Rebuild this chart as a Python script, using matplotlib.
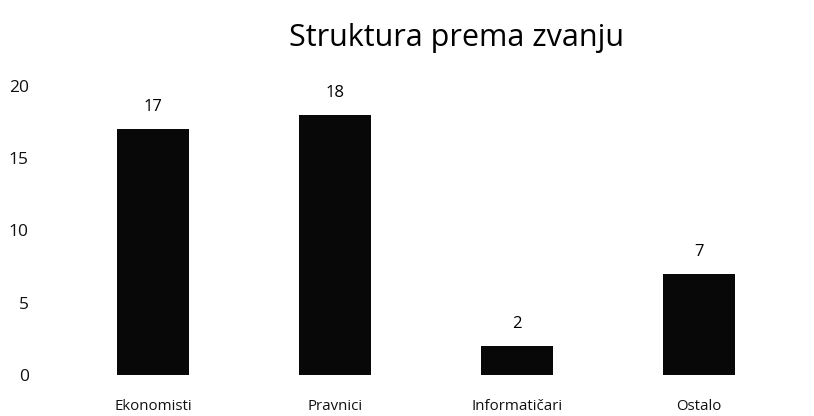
import matplotlib
matplotlib.use("Agg")
import matplotlib.pyplot as plt

categories = ["Ekonomisti", "Pravnici", "Informatičari", "Ostalo"]
values = [17, 18, 2, 7]
yticks = [0, 5, 10, 15, 20]
title = "Struktura prema zvanju"

plt.rcParams['font.family'] = ['Open Sans', 'DejaVu Sans']

fig = plt.figure(figsize=(8.14, 4.16), dpi=100)
ax = fig.add_axes([0.049, 0.0986, 0.951, 0.695])
x = list(range(len(categories)))
bars = ax.bar(x, values, width=0.4, color="#080808")
ax.set_ylim(0, 20)
ax.set_xlim(-0.621, 3.632)
ax.set_yticks(yticks)
ax.set_xticks(x)
ax.set_xticklabels(categories, fontsize=10.8)
ax.tick_params(axis='both', length=0, colors="#111111")
ax.tick_params(axis='y', labelsize=12.5, pad=8)
ax.tick_params(axis='x', pad=17)
for s in ax.spines.values():
    s.set_visible(False)
for b, v in zip(bars, values):
    ax.annotate(str(v), (b.get_x() + b.get_width() / 2, v), xytext=(0, 10),
                textcoords="offset points", ha="center", va="bottom", fontsize=12)
fig.text(0.561, 0.908, title, ha="center", va="center", fontsize=22)
fig.savefig("out.png", dpi=100)
